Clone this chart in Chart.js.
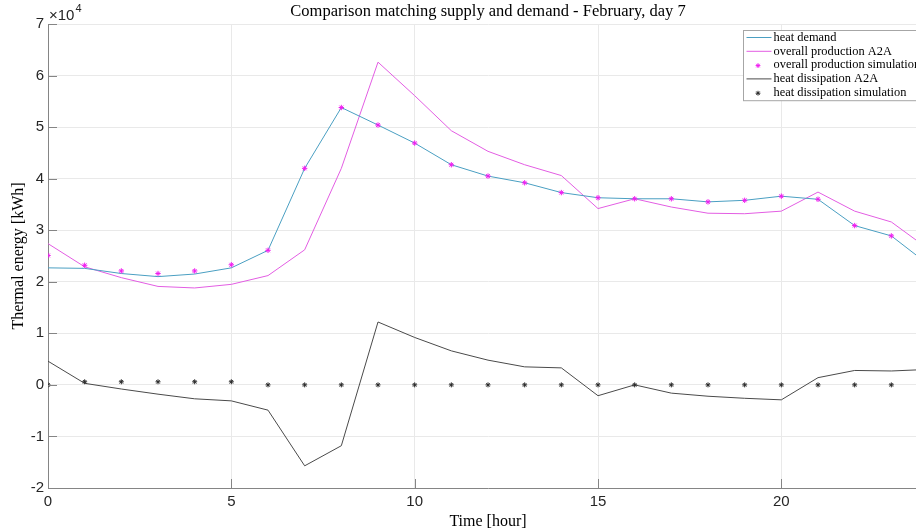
<!DOCTYPE html>
<html>
<head>
<meta charset="utf-8">
<script src="https://cdn.jsdelivr.net/npm/chart.js@4/dist/chart.umd.min.js"></script>
<style>
  html, body { margin: 0; padding: 0; background: #fff; overflow: hidden; }
  #wrap { width: 916px; height: 532px; overflow: hidden; position: relative; }
  canvas { display: block; }
</style>
</head>
<body>
<div id="wrap"><canvas id="c" width="940" height="532"></canvas></div>
<script>
// Hourly thermal energy balance, February day 7 (values in kWh)
const hours = [0, 1, 2, 3, 4, 5, 6, 7, 8, 9, 10, 11, 12, 13, 14, 15, 16, 17, 18, 19, 20, 21, 22, 23, 24];
const simHours = [0, 1, 2, 3, 4, 5, 6, 7, 8, 9, 10, 11, 12, 13, 14, 15, 16, 17, 18, 19, 20, 21, 22, 23];

const heatDemand = [22700, 22600, 21600, 21000, 21500, 22700, 26100, 42000, 53800, 50400, 46900, 42700,
                    40500, 39200, 37300, 36300, 36100, 36100, 35500, 35800, 36600, 36000, 30900, 28900, 23400];
const productionA2A = [27400, 22900, 20800, 19100, 18800, 19500, 21200, 26200, 42000, 62600, 56100, 49300,
                       45300, 42700, 40600, 34200, 36100, 34500, 33300, 33200, 33700, 37400, 33700, 31600, 26400];
const productionSim = [25100, 23200, 22100, 21600, 22100, 23300, 26100, 42000, 53800, 50400, 46900, 42700,
                       40500, 39200, 37300, 36300, 36100, 36100, 35500, 35800, 36600, 36000, 30900, 28900];
const dissipationA2A = [4600, 300, -800, -1800, -2700, -3100, -4900, -15700, -11800, 12200, 9200, 6600,
                        4800, 3500, 3300, -2100, 0, -1600, -2200, -2600, -2900, 1400, 2800, 2700, 3000];
const dissipationSim = [0, 600, 600, 600, 600, 600, 0, 0, 0, 0, 0, 0,
                        0, 0, 0, 0, 0, 0, 0, 0, 0, 0, 0, 0];

const xTickValues = [0, 5, 10, 15, 20];
const yTickValues = [-20000, -10000, 0, 10000, 20000, 30000, 40000, 50000, 60000, 70000];

const seriesLabels = ['heat demand', 'overall production A2A', 'overall production simulation',
                      'heat dissipation A2A', 'heat dissipation simulation'];
const chartTitle = 'Comparison matching supply and demand - February, day 7';
const xTitle = 'Time [hour]';
const yTitle = 'Thermal energy [kWh]';

const AXIS_COLOR = '#858585';
const TICK_TEXT = '#262626';
const GRID_COLOR = '#e9e9e9';
const SERIF = '"Liberation Serif", "Times New Roman", serif';
const SANS = '"Liberation Sans", Arial, sans-serif';

const pairs = (xs, ys) => ys.map((v, i) => ({ x: xs[i], y: v }));

// Inward-pointing tick marks on the left and bottom axes
const innerTicks = {
  id: 'innerTicks',
  afterDraw(chart) {
    const { ctx, chartArea: a, scales: { x, y } } = chart;
    ctx.save();
    ctx.strokeStyle = AXIS_COLOR;
    ctx.lineWidth = 1;
    ctx.beginPath();
    x.ticks.forEach(t => {
      const px = Math.round(x.getPixelForValue(t.value)) + 0.5;
      ctx.moveTo(px, a.bottom);
      ctx.lineTo(px, a.bottom - 9);
    });
    y.ticks.forEach(t => {
      const py = Math.round(y.getPixelForValue(t.value)) + 0.5;
      ctx.moveTo(a.left, py);
      ctx.lineTo(a.left + 9, py);
    });
    ctx.stroke();
    ctx.restore();
  }
};

// Axis multiplier shown above the y axis
const exponentLabel = {
  id: 'exponentLabel',
  afterDraw(chart) {
    const { ctx, chartArea: a } = chart;
    ctx.save();
    ctx.fillStyle = TICK_TEXT;
    ctx.textBaseline = 'alphabetic';
    ctx.textAlign = 'left';
    ctx.font = '15px ' + SANS;
    const base = '\u00d710';
    ctx.fillText(base, a.left + 1, 20);
    const w = ctx.measureText(base).width;
    ctx.font = '11px ' + SANS;
    ctx.fillText('4', a.left + 1 + w + 1, 12);
    ctx.restore();
  }
};

// Boxed legend in the upper right corner of the plot area
const boxedLegend = {
  id: 'boxedLegend',
  afterDatasetsDraw(chart) {
    const { ctx, chartArea: a } = chart;
    const sets = chart.data.datasets;
    ctx.save();
    ctx.font = '12.4px ' + SERIF;
    const textW = Math.max(...sets.map(d => ctx.measureText(d.label).width));
    const padL = 3, sampleW = 25, gap = 2, padR = 4, padT = 7, padB = 8, rowH = 13.8;
    const w = padL + sampleW + gap + textW + padR;
    const h = padT + rowH * (sets.length - 1) + padB;
    const left = Math.round(a.right - 4 - w) + 0.5;
    const top = Math.round(a.top + 6) + 0.5;
    ctx.fillStyle = '#ffffff';
    ctx.fillRect(left, top, w, h);
    ctx.strokeStyle = '#a6a6a6';
    ctx.lineWidth = 1;
    ctx.strokeRect(left, top, w, h);
    sets.forEach((d, i) => {
      const cy = top + padT + i * rowH;
      const sx = left + padL;
      if (d.showLine !== false) {
        ctx.strokeStyle = d.borderColor;
        ctx.lineWidth = d.borderWidth;
        ctx.beginPath();
        ctx.moveTo(sx, cy);
        ctx.lineTo(sx + sampleW, cy);
        ctx.stroke();
      } else {
        ctx.strokeStyle = d.pointBorderColor;
        ctx.fillStyle = d.pointBorderColor;
        ctx.lineWidth = d.pointBorderWidth;
        Chart.helpers.drawPoint(ctx, {
          pointStyle: d.pointStyle, radius: 2.4, rotation: 0,
          borderWidth: d.pointBorderWidth
        }, sx + sampleW / 2 - 1, cy + 0.5);
      }
      ctx.fillStyle = '#000000';
      ctx.textAlign = 'left';
      ctx.textBaseline = 'middle';
      ctx.fillText(d.label, sx + sampleW + gap, cy);
    });
    ctx.restore();
  }
};

new Chart(document.getElementById('c'), {
  type: 'line',
  data: {
    datasets: [
      {
        label: seriesLabels[0], data: pairs(hours, heatDemand),
        borderColor: '#4a9fc2', borderWidth: 1, pointRadius: 0, tension: 0, order: 2
      },
      {
        label: seriesLabels[1], data: pairs(hours, productionA2A),
        borderColor: '#e35de3', borderWidth: 1, pointRadius: 0, tension: 0, order: 2
      },
      {
        label: seriesLabels[2], data: pairs(simHours, productionSim), showLine: false,
        pointStyle: 'star', pointRadius: 2.7, pointBorderWidth: 1,
        pointBorderColor: '#f01cf0', pointBackgroundColor: '#f01cf0', order: 0
      },
      {
        label: seriesLabels[3], data: pairs(hours, dissipationA2A),
        borderColor: '#4a4a4a', borderWidth: 1, pointRadius: 0, tension: 0, order: 2
      },
      {
        label: seriesLabels[4], data: pairs(simHours, dissipationSim), showLine: false,
        pointStyle: 'star', pointRadius: 2.5, pointBorderWidth: 1,
        pointBorderColor: '#2a2a2a', pointBackgroundColor: '#2a2a2a', order: 1
      }
    ]
  },
  options: {
    responsive: false,
    animation: false,
    devicePixelRatio: 1,
    layout: { padding: { left: 0, right: 12, top: 0, bottom: 0 } },
    plugins: {
      legend: { display: false },
      tooltip: { enabled: false },
      title: {
        display: true, text: chartTitle, fullSize: false, color: '#000000',
        font: { family: SERIF, size: 16.5, weight: 'normal' },
        padding: { top: 2, bottom: 2.2 }
      }
    },
    scales: {
      x: {
        type: 'linear', min: 0, max: 24,
        afterFit: s => { s.height = 44; },
        afterBuildTicks: s => { s.ticks = xTickValues.map(v => ({ value: v })); },
        grid: { color: GRID_COLOR, lineWidth: 1, drawTicks: false },
        border: { color: AXIS_COLOR, width: 1 },
        ticks: {
          autoSkip: false, maxRotation: 0, padding: 5, color: TICK_TEXT,
          font: { family: SANS, size: 15 }
        },
        title: {
          display: true, text: xTitle, color: '#000000',
          font: { family: SERIF, size: 16, weight: 'normal' },
          padding: { top: 0, bottom: 1 }
        }
      },
      y: {
        type: 'linear', min: -20000, max: 70000,
        afterFit: s => { s.width = 48; },
        afterBuildTicks: s => { s.ticks = yTickValues.map(v => ({ value: v })); },
        grid: { color: GRID_COLOR, lineWidth: 1, drawTicks: false },
        border: { color: AXIS_COLOR, width: 1 },
        ticks: {
          autoSkip: false, padding: 4, color: TICK_TEXT,
          font: { family: SANS, size: 15 },
          callback: v => String(v / 10000)
        },
        title: {
          display: true, text: yTitle, color: '#000000',
          font: { family: SERIF, size: 16, weight: 'normal' },
          padding: { top: 9.5, bottom: 0 }
        }
      }
    }
  },
  plugins: [innerTicks, exponentLabel, boxedLegend]
});
</script>
</body>
</html>
